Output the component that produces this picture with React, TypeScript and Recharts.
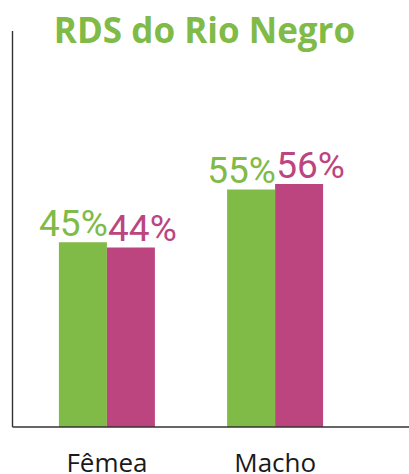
import React from "react";
import { BarChart, Bar, XAxis, YAxis, LabelList } from "recharts";

const categories = ["Fêmea", "Macho"];
const greenValues = [45, 55];
const pinkValues = [44, 56];
const title = "RDS do Rio Negro";

const GREEN = "#80BA47";
const PINK = "#BC4580";

const data = categories.map((c, i) => ({ name: c, green: greenValues[i], pink: pinkValues[i] }));

const makeLabel = (color: string, shift: number) => (props: any) => {
  const { x, y, width, value } = props;
  return (
    <text
      x={Number(x) + Number(width) / 2 + shift}
      y={Number(y) - 6}
      textAnchor="middle"
      fill={color}
      fontFamily="Roboto, 'Open Sans', sans-serif"
      fontWeight={400}
      fontSize={37}
    >
      {value}%
    </text>
  );
};

export default function App() {
  return (
    <div style={{ position: "absolute", left: 0, top: 0, width: 409, height: 474, background: "#fff" }}>
      <BarChart
        width={409}
        height={474}
        data={data}
        margin={{ top: 31, right: 0, bottom: 0, left: 2.5 }}
        barGap={0}
        barSize={48}
      >
        <YAxis
          type="number"
          domain={[10, 85]}
          width={10}
          tick={false}
          tickLine={false}
          axisLine={{ stroke: "#333", strokeWidth: 1.4 }}
        />
        <XAxis
          dataKey="name"
          height={47}
          padding={{ left: 10.4, right: 49.7 }}
          tickLine={false}
          tickSize={0}
          tickMargin={27}
          axisLine={{ stroke: "#333", strokeWidth: 1.4 }}
          tick={{ fill: "#1a1a1a", fontSize: 26, fontFamily: "'Open Sans', sans-serif" }}
          interval={0}
        />
        <Bar dataKey="green" fill={GREEN} isAnimationActive={false}>
          <LabelList dataKey="green" content={makeLabel(GREEN, -9.5)} />
        </Bar>
        <Bar dataKey="pink" fill={PINK} isAnimationActive={false}>
          <LabelList dataKey="pink" content={makeLabel(PINK, 11.5)} />
        </Bar>
      </BarChart>
      <svg width={409} height={60} style={{ position: "absolute", left: 0, top: 0 }}>
        <text
          x={204.5}
          y={43.3}
          textAnchor="middle"
          fill={GREEN}
          fontFamily="'Open Sans', sans-serif"
          fontWeight={700}
          fontSize={35}
        >
          {title}
        </text>
      </svg>
    </div>
  );
}
